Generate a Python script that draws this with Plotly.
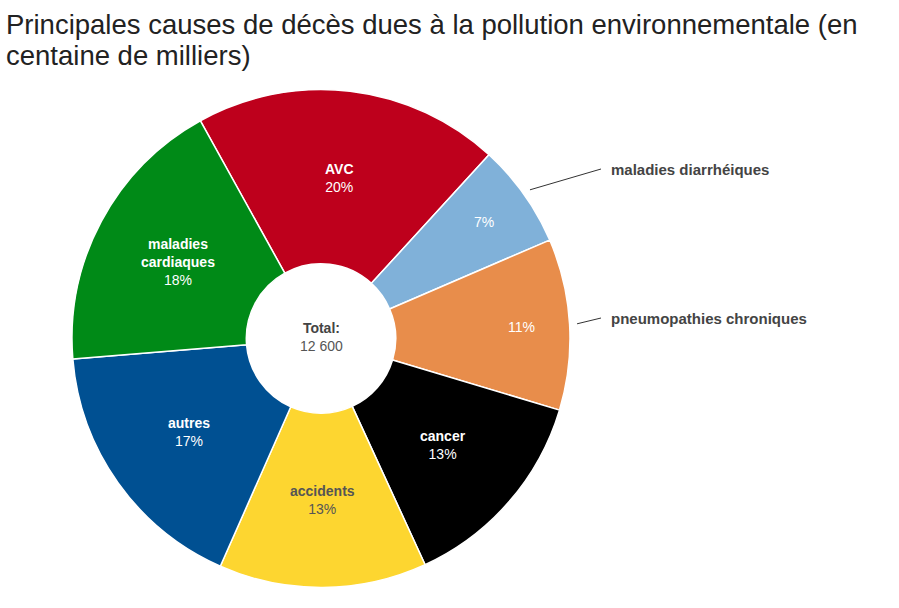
import math
import plotly.graph_objects as go

# ---------------- data ----------------
categories = ["AVC", "maladies diarrhéiques", "pneumopathies chroniques",
              "cancer", "accidents", "autres", "maladies cardiaques"]
values = [2500, 850, 1400, 1700, 1700, 2150, 2300]
display_names = ["AVC", "maladies diarrhéiques", "pneumopathies chroniques",
                 "cancer", "accidents", "autres", "maladies<br>cardiaques"]
outside_labelled = ["maladies diarrhéiques", "pneumopathies chroniques"]

title_lines = ["Principales causes de décès dues à la pollution environnementale (en",
               "centaine de milliers)"]

# ---------------- style ----------------
colors = ["#BE001C", "#80B1D9", "#E88D4B", "#000000", "#FDD630", "#005092", "#008A17"]
text_colors = ["#FFFFFF", "#FFFFFF", "#FFFFFF", "#FFFFFF", "#555555", "#FFFFFF", "#FFFFFF"]
FONT = "Liberation Sans, Arial, sans-serif"

W, H = 899, 608
CX, CY, R = 321, 338.5, 249      # pie centre / radius in pixels
HOLE = 0.30
ROTATION = -29                   # start angle of first slice (deg, clockwise from 12h)
LABEL_X = 609                    # x pixel of outside labels
LABEL_Y = {"maladies diarrhéiques": 169, "pneumopathies chroniques": 318}
TEXT_R_FULL = 0.65               # radius fraction for "label + %" texts
TEXT_R_PCT = 0.805               # radius fraction for "%"-only texts


def px_to_paper(x, y):
    return x / W, 1 - y / H


x0, _ = px_to_paper(CX - R, 0)
x1, _ = px_to_paper(CX + R, 0)
_, y0 = px_to_paper(0, CY + R)
_, y1 = px_to_paper(0, CY - R)

fig = go.Figure(go.Pie(
    labels=categories,
    values=values,
    textinfo="none",
    marker=dict(colors=colors, line=dict(color="white", width=1.5)),
    hole=HOLE,
    sort=False,
    direction="clockwise",
    rotation=ROTATION,
    domain=dict(x=[x0, x1], y=[y0, y1]),
    showlegend=False,
    hoverinfo="label+value+percent",
))

# ---- slice texts and outside labels, computed from slice angles ----
total = sum(values)
annotations = []
shapes = []
cum = 0
for c, name, v, tc in zip(categories, display_names, values, text_colors):
    start = ROTATION + 360 * cum / total
    cum += v
    end = ROTATION + 360 * cum / total
    mid = math.radians((start + end) / 2)
    pct = f"{round(100 * v / total)}%"
    if c in outside_labelled:
        rr = TEXT_R_PCT * R
        txt = pct
    else:
        rr = TEXT_R_FULL * R
        txt = "<b>" + name + "</b><br>" + pct
    tx, ty = px_to_paper(CX + rr * math.sin(mid), CY - rr * math.cos(mid))
    annotations.append(dict(x=tx, y=ty, xref="paper", yref="paper",
                            xanchor="center", yanchor="middle", showarrow=False,
                            text=txt, font=dict(family=FONT, size=14, color=tc)))
    if c in outside_labelled:
        sx = CX + 1.03 * R * math.sin(mid)
        sy = CY - 1.03 * R * math.cos(mid)
        ly = LABEL_Y[c]
        p0 = px_to_paper(sx, sy)
        p1 = px_to_paper(LABEL_X - 8, ly)
        shapes.append(dict(type="line", xref="paper", yref="paper",
                           x0=p0[0], y0=p0[1], x1=p1[0], y1=p1[1],
                           line=dict(color="#333333", width=1)))
        lx, lyp = px_to_paper(LABEL_X, ly)
        annotations.append(dict(x=lx, y=lyp, xref="paper", yref="paper",
                                xanchor="left", yanchor="middle", showarrow=False,
                                text="<b>" + c + "</b>",
                                font=dict(family=FONT, size=15, color="#444444")))

# centre total
total_str = f"{total:,}".replace(",", " ")
ccx, ccy = px_to_paper(CX, CY - 2)
annotations.append(dict(x=ccx, y=ccy, xref="paper", yref="paper",
                        xanchor="center", yanchor="middle", showarrow=False,
                        text="<b>Total:</b><br><span style='color:#555555'>" + total_str + "</span>",
                        font=dict(family=FONT, size=14, color="#444444")))

# title (two lines, placed individually)
for i, line in enumerate(title_lines):
    tx, ty = px_to_paper(4, 24 + 32 * i)
    annotations.append(dict(x=tx, y=ty, xref="paper", yref="paper",
                            xanchor="left", yanchor="middle", align="left", showarrow=False,
                            text=line,
                            font=dict(family=FONT, size=27.5, color="#222222")))

fig.update_layout(
    width=W, height=H,
    margin=dict(l=0, r=0, t=0, b=0),
    paper_bgcolor="white",
    plot_bgcolor="white",
    annotations=annotations,
    shapes=shapes,
)

fig.write_html("out.html")
